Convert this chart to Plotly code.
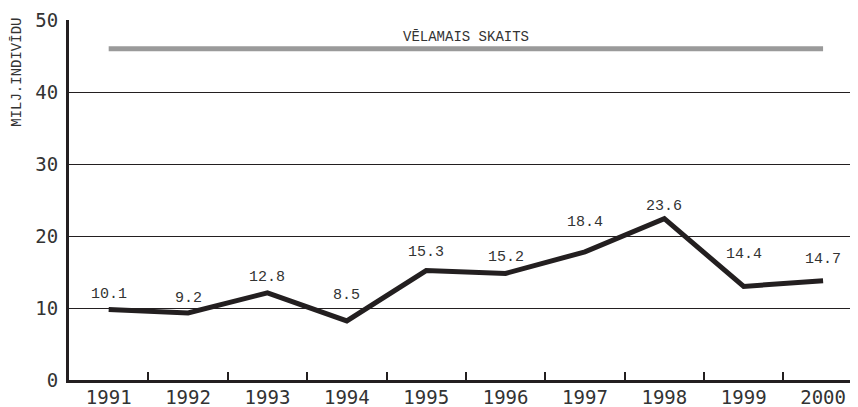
import plotly.graph_objects as go

years = ["1991", "1992", "1993", "1994", "1995", "1996", "1997", "1998", "1999", "2000"]
# line as drawn in the picture
individuals = [9.8, 9.3, 12.1, 8.2, 15.2, 14.8, 17.8, 22.4, 13.0, 13.8]
# printed labels above the points
label_text = ["10.1", "9.2", "12.8", "8.5", "15.3", "15.2", "18.4", "23.6", "14.4", "14.7"]
target_value = 46
target_name = "VĒLAMAIS SKAITS"
y_title = "MILJ.INDIVĪDU"

# pixel offsets of the labels above their point
label_shift = [15, 15, 15, 25, 18, 16, 29, 12, 32, 21]

mono = "Liberation Mono"
axis_font = "DejaVu Sans Mono"
ink = "#231f20"

fig = go.Figure()

fig.add_trace(go.Scatter(
    x=years, y=[target_value] * len(years), mode="lines",
    line=dict(color="#9a9a9a", width=5), hoverinfo="skip"))

fig.add_trace(go.Scatter(
    x=years, y=individuals, mode="lines",
    line=dict(color=ink, width=5)))

# category axis: annotations go by index
for i, (val, txt, dy) in enumerate(zip(individuals, label_text, label_shift)):
    fig.add_annotation(x=i, y=val, text=txt, showarrow=False, yshift=dy,
                       font=dict(family=mono, size=15, color="#333"))

fig.add_annotation(x=4.5, y=target_value, text=target_name, showarrow=False,
                   yshift=12, font=dict(family=mono, size=14, color="#333"))

fig.add_annotation(xref="paper", yref="paper", x=-0.066, y=0.856,
                   xanchor="center", yanchor="middle",
                   text=y_title, textangle=-90, showarrow=False,
                   font=dict(family=mono, size=14, color="#333"))

# page body has an 8px margin, so the figure is made 8px smaller
fig.update_layout(
    width=850, height=399,
    margin=dict(l=61, r=0, t=12, b=27),
    plot_bgcolor="white", paper_bgcolor="white",
    showlegend=False,
    xaxis=dict(type="category", range=[-0.5, 9.44], tickson="boundaries",
               ticks="inside", ticklen=8, tickwidth=1.5, tickcolor=ink,
               showline=True, linecolor=ink, linewidth=3, showgrid=False,
               ticklabelstandoff=-2,
               tickfont=dict(family=axis_font, size=19, color="#333")),
    yaxis=dict(range=[0, 50], tickvals=[0, 10, 20, 30, 40, 50],
               showline=True, linecolor=ink, linewidth=3,
               showgrid=True, gridcolor=ink, gridwidth=1, zeroline=False,
               ticks="", ticklabelstandoff=4,
               tickfont=dict(family=axis_font, size=19, color="#333")),
)

fig.write_html("out.html")
